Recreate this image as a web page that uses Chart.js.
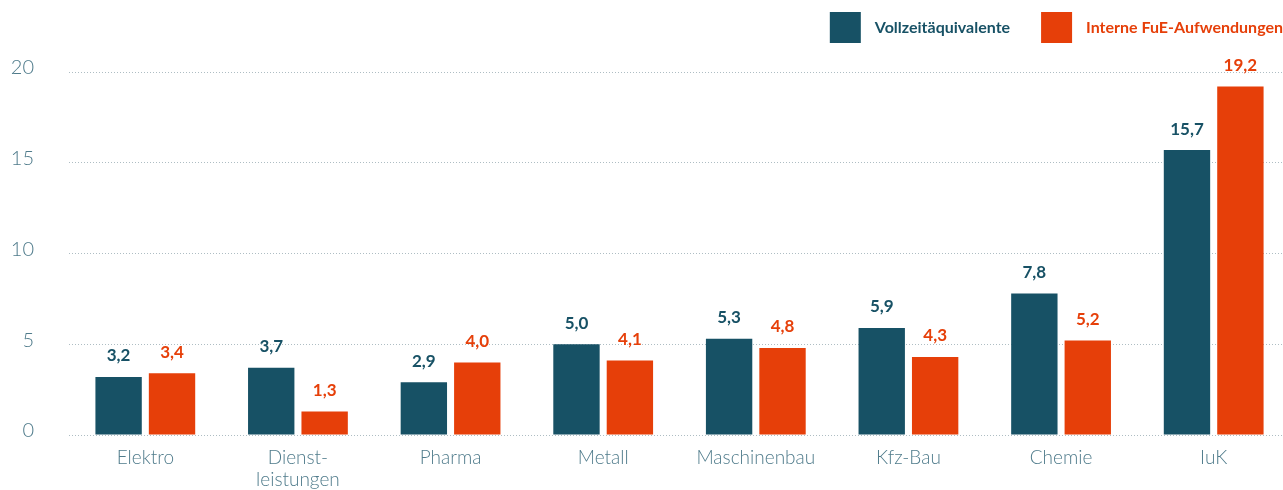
<!DOCTYPE html>
<html>
<head>
<meta charset="utf-8">
<script src="https://cdn.jsdelivr.net/npm/chart.js@4"></script>
<style>
  html, body { margin: 0; padding: 0; background: #fff; overflow: hidden; }
  #wrap { width: 1283px; height: 490px; overflow: hidden; }
</style>
</head>
<body>
<div id="wrap"><canvas id="chart" width="1290" height="490"></canvas></div>
<script>
const categories = ['Elektro', ['Dienst-', 'leistungen'], 'Pharma', 'Metall', 'Maschinenbau', 'Kfz-Bau', 'Chemie', 'IuK'];
const vollzeit = [3.2, 3.7, 2.9, 5.0, 5.3, 5.9, 7.8, 15.7];
const fueAufwand = [3.4, 1.3, 4.0, 4.1, 4.8, 4.3, 5.2, 19.2];
const yTicks = [0, 5, 10, 15, 20];

const TEAL = '#175165';
const ORANGE = '#e63f09';
const AXIS_TXT = '#4f7b8b';
const FONT = 'Lato, "Open Sans", sans-serif';
const VISIBLE_W = 1283;

const fmt = v => v.toFixed(1).replace('.', ',');

// value labels above each bar
const valueLabels = {
    id: 'valueLabels',
    afterDatasetsDraw(chart) {
        const ctx = chart.ctx;
        ctx.save();
        ctx.font = `bold 17px ${FONT}`;
        ctx.textAlign = 'center';
        ctx.textBaseline = 'middle';
        chart.data.datasets.forEach((ds, i) => {
            const meta = chart.getDatasetMeta(i);
            ctx.fillStyle = ds.backgroundColor;
            meta.data.forEach((bar, j) => {
                ctx.fillText(fmt(ds.data[j]), bar.x, bar.y - 21);
            });
        });
        ctx.restore();
    }
};

// legend top right: coloured square + bold text in series colour
const topLegend = {
    id: 'topLegend',
    afterDraw(chart) {
        const ctx = chart.ctx;
        ctx.save();
        ctx.font = `bold 16px ${FONT}`;
        ctx.textBaseline = 'middle';
        let x = VISIBLE_W;
        const items = chart.data.datasets.slice().reverse();
        items.forEach(ds => {
            const w = ctx.measureText(ds.label).width;
            x -= w;
            ctx.fillStyle = ds.backgroundColor;
            ctx.fillText(ds.label, x, 28);
            x -= 14 + 31;
            ctx.fillRect(x, 12, 31, 31);
            x -= 31;
        });
        ctx.restore();
    }
};

new Chart(document.getElementById('chart'), {
    type: 'bar',
    data: {
        labels: categories,
        datasets: [
            { label: 'Vollzeitäquivalente', data: vollzeit, backgroundColor: TEAL },
            { label: 'Interne FuE-Aufwendungen', data: fueAufwand, backgroundColor: ORANGE }
        ]
    },
    options: {
        responsive: false,
        animation: false,
        layout: { padding: { top: 72, right: 0, bottom: 0, left: 0 } },
        datasets: { bar: { categoryPercentage: 0.70, barPercentage: 0.868 } },
        plugins: {
            tooltip: { enabled: false },
            legend: { display: false }
        },
        scales: {
            x: {
                grid: { display: false, drawTicks: false },
                border: { display: false },
                ticks: {
                    color: AXIS_TXT,
                    padding: 12,
                    font: { family: FONT, size: 19, weight: '300', lineHeight: 1.15 }
                },
                afterFit(axis) { axis.height = 55; }
            },
            y: {
                min: 0,
                max: 20,
                afterBuildTicks(axis) { axis.ticks = yTicks.map(v => ({ value: v })); },
                grid: { color: '#aebdc3', lineWidth: 1, drawTicks: false },
                border: { display: false, dash: [1, 2] },
                ticks: {
                    color: AXIS_TXT,
                    padding: 35,
                    labelOffset: -4,
                    font: { family: FONT, size: 20, weight: '300' }
                },
                afterFit(axis) { axis.width = 69; }
            }
        }
    },
    plugins: [valueLabels, topLegend]
});
</script>
</body>
</html>
